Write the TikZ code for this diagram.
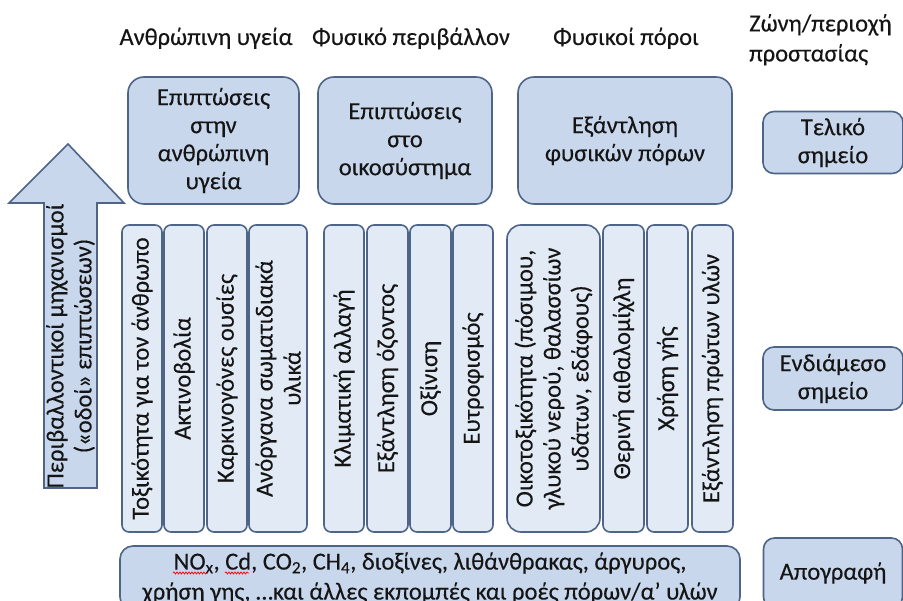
\documentclass[tikz,border=0pt]{standalone}
\usepackage{fontspec}
\setmainfont{Carlito}[FakeBold=0.25]
\usetikzlibrary{decorations.pathmorphing}
\definecolor{panelfill}{HTML}{C8D7EC}
\definecolor{columnfill}{HTML}{E2EAF5}
\definecolor{edgeblue}{HTML}{4E6587}
\definecolor{ink}{HTML}{151515}
\tikzset{
  every node/.style={text=ink, font=\fontsize{24.5}{28}\selectfont, inner sep=0pt},
  panel/.style={draw=edgeblue, line width=1.6pt, fill=panelfill, rounded corners=16pt, align=center},
  tag/.style={panel, rounded corners=11pt},
  column/.style={draw=edgeblue, line width=1.6pt, fill=columnfill, rounded corners=7pt,
                 rotate=90, align=center, minimum width=307pt},
  heading/.style={align=center, anchor=base},
  spell/.style={draw=red, line width=0.7pt, decorate,
                decoration={snake, amplitude=1pt, segment length=3pt}},
}
\begin{document}
\begin{tikzpicture}[x=1pt, y=-1pt]
\clip (0,0) rectangle (903,601);
\fill[white] (0,0) rectangle (903,601);

% column headings
\node[heading] (hHuman) at (206,45) {Ανθρώπινη υγεία};
\node[heading] (hNature) at (411,45) {Φυσικό περιβάλλον};
\node[heading] (hRes) at (626,45) {Φυσικοί πόροι};
\node[align=left, anchor=north west, font=\fontsize{24.5}{30}\selectfont] (hZone) at (749,14)
  {Ζώνη/περιοχή\\προστασίας};

% end-point panels
\node[panel, minimum width=171pt, minimum height=127pt] (eHuman) at (213.5,140.5)
  {Επιπτώσεις\\στην\\ανθρώπινη\\υγεία};
\node[panel, minimum width=174pt, minimum height=127pt] (eEco) at (405,140.5)
  {Επιπτώσεις\\στο\\οικοσύστημα};
\node[panel, minimum width=214pt, minimum height=127pt] (eRes) at (625,140.5)
  {Εξάντληση\\φυσικών πόρων};

% level labels on the right
\node[tag, minimum width=140pt, minimum height=62pt] (lEnd) at (833,142.5) {Τελικό\\σημείο};
\node[tag, minimum width=140pt, minimum height=63pt] (lMid) at (833,378.5) {Ενδιάμεσο\\σημείο};
\node[tag, minimum width=139pt, minimum height=70pt] (lInv) at (833,573) {Απογραφή};

% mid-point columns
\node[column, minimum height=40pt] (m1) at (142,378.5) {Τοξικότητα για τον άνθρωπο};
\node[column, minimum height=40pt] (m2) at (184,378.5) {Ακτινοβολία};
\node[column, minimum height=40pt] (m3) at (227,378.5) {Καρκινογόνες ουσίες};
\node[column, minimum height=58pt] (m4) at (278,378.5) {Ανόργανα σωματιδιακά\\υλικά};
\node[column, minimum height=40pt] (m5) at (344,378.5) {Κλιματική αλλαγή};
\node[column, minimum height=41pt] (m6) at (387.5,378.5) {Εξάντληση όζοντος};
\node[column, minimum height=41pt] (m7) at (430.5,378.5) {Οξίνιση};
\node[column, minimum height=40pt] (m8) at (473,378.5) {Ευτροφισμός};
\node[column, minimum height=93pt, rounded corners=14pt] (m9) at (553.5,378.5)
  {Οικοτοξικότητα (πόσιμου,\\γλυκού νερού, θαλασσίων\\υδάτων, εδάφους)};
\node[column, minimum height=41pt] (m10) at (623.5,378.5) {Θερινή αιθαλομίχλη};
\node[column, minimum height=41pt] (m11) at (667.5,378.5) {Χρήση γής};
\node[column, minimum height=41pt] (m12) at (712.5,378.5) {Εξάντληση πρώτων υλών};

% inventory panel
\node[panel, rounded corners=13pt, minimum width=620pt, minimum height=64pt,
      font=\fontsize{24.5}{30}\selectfont] (inv) at (430,578)
  {NO\textsubscript{x}, Cd, CO\textsubscript{2}, CH\textsubscript{4}, διοξίνες, λιθάνθρακας, άργυρος,\\
   χρήση γης, …και άλλες εκπομπές και ροές πόρων/α’ υλών};
\coordinate (wA1) at (173,573);
\coordinate (wA2) at (207,573);
\coordinate (wB1) at (225,573);
\coordinate (wB2) at (249,573);
\draw[spell] (wA1) -- (wA2);
\draw[spell] (wB1) -- (wB2);

% impact pathway arrow
\draw[draw=edgeblue, line width=1.6pt, fill=panelfill, line join=miter]
  (44,488) -- (44,203) -- (9,203) -- (68,144) -- (124,203) -- (97,203) -- (97,488) -- cycle;
\node[rotate=90, align=center] (pathText) at (70.5,346)
  {Περιβαλλοντικοί μηχανισμοί\\(«οδοί» επιπτώσεων)};
\end{tikzpicture}
\end{document}
